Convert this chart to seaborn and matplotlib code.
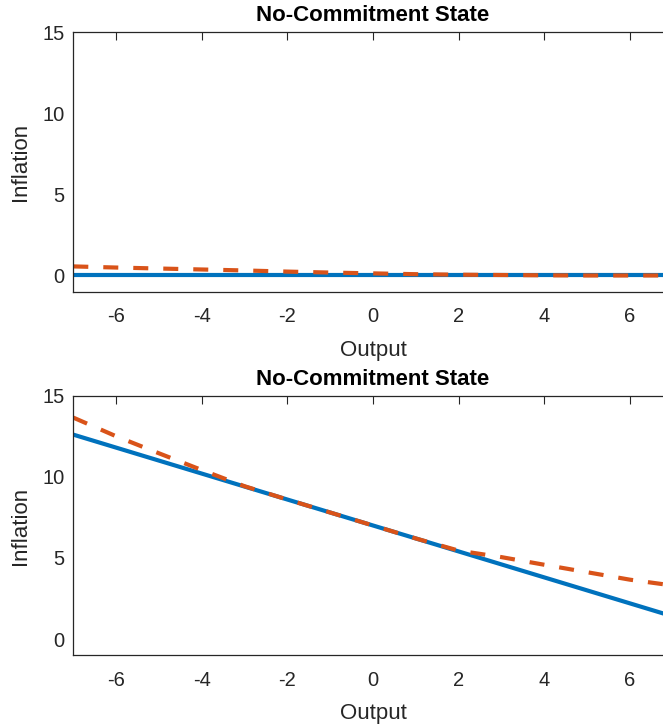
import numpy as np
import pandas as pd
import matplotlib
matplotlib.use('Agg')
import matplotlib.pyplot as plt
import seaborn as sns

# output grid
output = [-7, -6, -5, -4, -3, -2, -1, 0, 1, 2, 3, 4, 5, 6, 7]

# top panel
top_solid  = [0, 0, 0, 0, 0, 0, 0, 0, 0, 0, 0, 0, 0, 0, 0]
top_dashed = [0.56, 0.49, 0.43, 0.37, 0.31, 0.24, 0.18, 0.13, 0.08, 0.05, 0.03, 0.01, 0.0, 0.0, 0.0]

# bottom panel
bot_solid  = [12.6, 11.8, 11.0, 10.2, 9.4, 8.6, 7.8, 7.0, 6.2, 5.4, 4.6, 3.8, 3.0, 2.2, 1.4]
bot_dashed = [13.65, 12.5, 11.45, 10.42, 9.42, 8.6, 7.8, 7.0, 6.2, 5.45, 5.05, 4.58, 4.12, 3.66, 3.3]

titles   = ['No-Commitment State', 'No-Commitment State']
x_ticks  = [-6, -4, -2, 0, 2, 4, 6]
y_ticks  = [0, 5, 10, 15]

blue   = '#0072BD'
orange = '#D95319'
grey   = '#262626'

sns.set_style('white')
plt.rcParams['font.family'] = ['Liberation Sans', 'DejaVu Sans']

fig = plt.figure(figsize = (6.63, 7.28), dpi = 100)
W, H = 663.0, 728.0
boxes = [(73.3, 32.3, 672.8, 291.7), (73.3, 395.7, 672.8, 655.3)]

panels = [(top_solid, top_dashed), (bot_solid, bot_dashed)]
for (l, t, r, b), (solid, dashed), title in zip(boxes, panels, titles):
    ax = fig.add_axes([l / W, 1 - b / H, (r - l) / W, (b - t) / H])
    df = pd.DataFrame({'Output': output, 'solid': solid, 'dashed': dashed})
    sns.lineplot(data = df, x = 'Output', y = 'solid', ax = ax, color = blue, lw = 3.0)
    sns.lineplot(data = df, x = 'Output', y = 'dashed', ax = ax, color = orange, lw = 3.0,
                 linestyle = (0, (3.6, 3.6)))
    ax.set_xlim(-7, 7)
    ax.set_ylim(-1, 15)
    ax.set_xticks(x_ticks)
    ax.set_yticks(y_ticks)
    ax.set_xticklabels([str(v) for v in x_ticks])
    ax.set_yticklabels([str(v) for v in y_ticks])
    ax.tick_params(direction = 'in', length = 5.5, width = 0.8, top = True, right = True,
                   labelsize = 14.5, colors = grey)
    ax.tick_params(axis = 'x', pad = 11)
    ax.tick_params(axis = 'y', pad = 6.5)
    for s in ax.spines.values():
        s.set_color(grey)
        s.set_linewidth(0.9)
    ax.set_xlabel('Output', fontsize = 16, color = grey, labelpad = 10)
    ax.set_ylabel('Inflation', fontsize = 16, color = grey, labelpad = 8)
    ax.set_title(title, fontsize = 16, fontweight = 'bold', color = 'black', pad = 8)

fig.savefig('out.png', dpi = 100)
